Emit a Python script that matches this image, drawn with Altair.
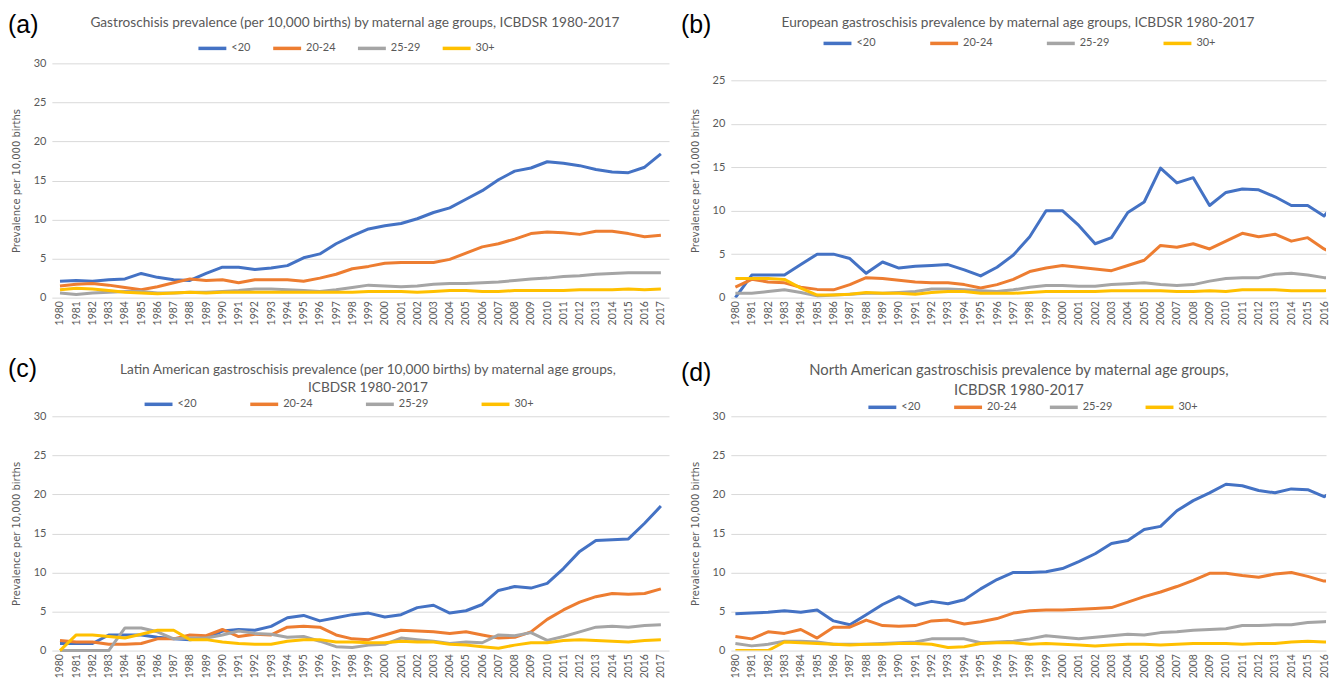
import altair as alt
import pandas as pd

years = list(range(1980, 2018))
groups = ["<20", "20-24", "25-29", "30+"]
colors = ["#4472C4", "#ED7D31", "#A5A5A5", "#FFC000"]

# (a) ICBDSR overall
a_lt20 = [2.1, 2.2, 2.1, 2.3, 2.4, 3.1, 2.6, 2.3, 2.2, 3.1, 3.9, 3.9, 3.6, 3.8, 4.1, 5.1, 5.6, 6.9, 7.9, 8.8,
          9.2, 9.5, 10.1, 10.9, 11.5, 12.6, 13.7, 15.1, 16.2, 16.6, 17.4, 17.2, 16.9, 16.4, 16.1, 16.0, 16.7, 18.4]
a_20_24 = [1.5, 1.7, 1.8, 1.6, 1.3, 1.0, 1.4, 1.9, 2.4, 2.2, 2.3, 1.9, 2.3, 2.3, 2.3, 2.1, 2.5, 3.0, 3.7, 4.0,
           4.4, 4.5, 4.5, 4.5, 4.9, 5.7, 6.5, 6.9, 7.5, 8.2, 8.4, 8.3, 8.1, 8.5, 8.5, 8.2, 7.8, 8.0]
a_25_29 = [0.6, 0.4, 0.6, 0.7, 0.8, 0.8, 0.6, 0.6, 0.7, 0.7, 0.8, 0.9, 1.1, 1.1, 1.0, 0.9, 0.8, 1.0, 1.3, 1.6,
           1.5, 1.4, 1.5, 1.7, 1.8, 1.8, 1.9, 2.0, 2.2, 2.4, 2.5, 2.7, 2.8, 3.0, 3.1, 3.2, 3.2, 3.2]
a_30p = [1.0, 1.2, 1.1, 0.9, 0.7, 0.6, 0.5, 0.6, 0.7, 0.6, 0.7, 0.7, 0.7, 0.7, 0.7, 0.7, 0.7, 0.7, 0.7, 0.8,
         0.8, 0.8, 0.7, 0.8, 0.9, 0.9, 0.8, 0.8, 0.9, 0.9, 0.9, 0.9, 1.0, 1.0, 1.0, 1.1, 1.0, 1.1]

# (b) Europe
b_lt20 = [0.0, 2.6, 2.6, 2.6, 3.8, 5.0, 5.0, 4.5, 2.8, 4.1, 3.4, 3.6, 3.7, 3.8, 3.2, 2.5, 3.5, 4.9, 7.0, 10.0,
          10.0, 8.3, 6.2, 6.9, 9.8, 11.0, 14.9, 13.2, 13.8, 10.6, 12.1, 12.5, 12.4, 11.6, 10.6, 10.6, 9.4, 11.5]
b_20_24 = [1.2, 2.1, 1.8, 1.7, 1.2, 0.95, 0.9, 1.5, 2.3, 2.2, 2.0, 1.8, 1.7, 1.7, 1.5, 1.1, 1.5, 2.1, 3.0, 3.4,
           3.7, 3.5, 3.3, 3.1, 3.7, 4.3, 6.0, 5.8, 6.2, 5.6, 6.5, 7.4, 7.0, 7.3, 6.5, 6.9, 5.6, 4.7]
b_25_29 = [0.5, 0.5, 0.7, 0.9, 0.6, 0.2, 0.3, 0.4, 0.5, 0.5, 0.6, 0.7, 1.0, 1.0, 0.9, 0.8, 0.7, 0.9, 1.2, 1.4,
           1.4, 1.3, 1.3, 1.5, 1.6, 1.7, 1.5, 1.4, 1.5, 1.9, 2.2, 2.3, 2.3, 2.7, 2.8, 2.6, 2.3, 2.3]
b_30p = [2.2, 2.2, 2.2, 2.1, 1.1, 0.3, 0.3, 0.4, 0.6, 0.5, 0.5, 0.4, 0.6, 0.7, 0.7, 0.5, 0.5, 0.5, 0.6, 0.7,
         0.7, 0.7, 0.7, 0.8, 0.8, 0.8, 0.8, 0.7, 0.7, 0.8, 0.7, 0.9, 0.9, 0.9, 0.8, 0.8, 0.8, 0.9]

# (c) Latin America
c_lt20 = [0.9, 0.9, 0.9, 2.0, 2.0, 2.0, 1.7, 1.5, 1.4, 1.6, 2.5, 2.7, 2.6, 3.1, 4.2, 4.5, 3.8, 4.2, 4.6, 4.8,
          4.3, 4.6, 5.5, 5.8, 4.8, 5.1, 5.9, 7.7, 8.2, 8.0, 8.6, 10.5, 12.7, 14.1, 14.2, 14.3, 16.3, 18.5]
c_20_24 = [1.3, 1.1, 1.1, 0.8, 0.8, 0.9, 1.5, 1.5, 2.0, 1.9, 2.7, 1.8, 2.1, 2.0, 3.0, 3.1, 3.0, 2.0, 1.5, 1.4,
           2.0, 2.6, 2.5, 2.4, 2.2, 2.4, 2.0, 1.6, 1.7, 2.4, 4.0, 5.2, 6.2, 6.9, 7.3, 7.2, 7.3, 7.9]
c_25_29 = [0.0, 0.0, 0.0, 0.0, 2.9, 2.9, 2.4, 1.5, 1.6, 1.6, 2.0, 2.5, 2.2, 2.1, 1.7, 1.8, 1.2, 0.5, 0.4, 0.7,
           0.8, 1.6, 1.4, 1.2, 0.9, 1.1, 1.0, 2.0, 1.9, 2.3, 1.3, 1.8, 2.4, 3.0, 3.1, 3.0, 3.2, 3.3]
c_30p = [0.0, 2.0, 2.0, 1.8, 1.6, 2.1, 2.6, 2.6, 1.4, 1.4, 1.1, 0.9, 0.8, 0.8, 1.2, 1.4, 1.4, 1.1, 1.1, 1.0,
         1.0, 1.2, 1.1, 1.1, 0.8, 0.7, 0.5, 0.3, 0.7, 1.0, 1.0, 1.3, 1.4, 1.3, 1.2, 1.1, 1.3, 1.4]

# (d) North America
d_lt20 = [4.7, 4.8, 4.9, 5.1, 4.9, 5.2, 3.8, 3.3, 4.6, 5.9, 6.9, 5.8, 6.3, 6.0, 6.5, 7.9, 9.1, 10.0, 10.0, 10.1,
          10.5, 11.4, 12.4, 13.7, 14.1, 15.5, 15.9, 17.9, 19.2, 20.2, 21.3, 21.1, 20.5, 20.2, 20.7, 20.6, 19.7, 21.0]
d_20_24 = [1.8, 1.5, 2.4, 2.2, 2.7, 1.6, 3.0, 3.0, 3.9, 3.2, 3.1, 3.2, 3.8, 3.9, 3.4, 3.7, 4.1, 4.8, 5.1, 5.2,
           5.2, 5.3, 5.4, 5.5, 6.2, 6.9, 7.5, 8.2, 9.0, 9.9, 9.9, 9.6, 9.4, 9.8, 10.0, 9.5, 8.9, 9.0]
d_25_29 = [0.9, 0.6, 0.8, 1.2, 1.2, 1.1, 0.8, 0.8, 0.8, 0.9, 1.0, 1.1, 1.5, 1.5, 1.5, 1.0, 1.1, 1.2, 1.5, 1.9,
           1.7, 1.5, 1.7, 1.9, 2.1, 2.0, 2.3, 2.4, 2.6, 2.7, 2.8, 3.2, 3.2, 3.3, 3.3, 3.6, 3.7, 3.8]
d_30p = [0.0, 0.0, 0.0, 1.1, 1.0, 0.9, 0.8, 0.7, 0.8, 0.8, 0.9, 0.9, 0.8, 0.4, 0.5, 0.9, 1.0, 1.0, 0.8, 0.9,
         0.8, 0.7, 0.6, 0.7, 0.8, 0.8, 0.7, 0.8, 0.9, 0.9, 0.9, 0.8, 0.9, 0.9, 1.1, 1.2, 1.1, 1.0]

title_a = ["Gastroschisis prevalence (per 10,000 births) by maternal age groups, ICBDSR 1980-2017"]
title_b = ["European gastroschisis prevalence by maternal age groups, ICBDSR 1980-2017"]
title_c = ["Latin American gastroschisis prevalence (per 10,000 births) by maternal age groups,", "ICBDSR 1980-2017"]
title_d = ["North American gastroschisis prevalence by maternal age groups,", "ICBDSR 1980-2017"]
y_title = "Prevalence per 10,000 births"

GREY = "#595959"
LABEL_FONT = "Lato"


def long_df(series):
    rows = []
    for g, vals in zip(groups, series):
        for yr, v in zip(years, vals):
            rows.append({"year": yr, "group": g, "value": v})
    return pd.DataFrame(rows)


def panel(series, title_lines, letter, width, height, xdom, xvals, ydom, yvals,
          leg_x, leg_y, leg_pad, title_x, title_y, title_size, title_lh,
          letter_x, letter_y, clip):
    df = long_df(series)
    legend_kw = dict(
        orient="none", legendX=leg_x, legendY=leg_y, direction="horizontal", title=None,
        symbolType="stroke", symbolSize=784, symbolStrokeWidth=3.5, columnPadding=leg_pad,
        labelFont=LABEL_FONT, labelFontSize=11, labelColor=GREY, labelOffset=3, padding=0,
    )
    lines = alt.Chart(df).mark_line(strokeWidth=3, clip=clip, strokeJoin="round").encode(
        x=alt.X("year:Q", scale=alt.Scale(domain=xdom, nice=False, zero=False),
                axis=alt.Axis(values=xvals, format="d", labelAngle=-90, grid=False, domain=False,
                              ticks=False, labelPadding=3, labelOverlap=False, labelFlush=False,
                              title=None, labelFont=LABEL_FONT, labelFontSize=10.5, labelColor=GREY)),
        y=alt.Y("value:Q", scale=alt.Scale(domain=ydom, nice=False, zero=True),
                axis=alt.Axis(values=yvals, grid=True, gridColor="#D9D9D9", gridWidth=1, domain=False,
                              ticks=False, labelPadding=6, labelFont=LABEL_FONT, labelFontSize=11,
                              labelColor=GREY, title=y_title, titleFont="DejaVu Sans", titleFontSize=10,
                              titleFontWeight="normal", titleColor=GREY, titlePadding=12)),
        color=alt.Color("group:N", sort=groups, scale=alt.Scale(domain=groups, range=colors),
                        legend=alt.Legend(**legend_kw)),
    )
    layers = [lines]
    for i, line in enumerate(title_lines):
        layers.append(
            alt.Chart(pd.DataFrame({"t": [line]})).mark_text(
                font=LABEL_FONT, fontSize=title_size, color=GREY, align="center", baseline="middle"
            ).encode(x=alt.value(title_x), y=alt.value(title_y + title_lh * i), text="t:N")
        )
    layers.append(
        alt.Chart(pd.DataFrame({"t": [letter]})).mark_text(
            font="Liberation Sans", fontSize=25, color="black", align="left", baseline="middle"
        ).encode(x=alt.value(letter_x), y=alt.value(letter_y), text="t:N")
    )
    return alt.layer(*layers).properties(width=width, height=height)


full_dom = [1979.5, 2017.5]
cut_dom = [1979.72, 2016.12]
years_cut = years[:-1]
y30 = [0, 5, 10, 15, 20, 25, 30]
y25 = [0, 5, 10, 15, 20, 25]

pa = panel([a_lt20, a_20_24, a_25_29, a_30p], title_a, "(a)", 619, 235, full_dom, years,
           [0, 30], y30, 145, -31, 15, 304, -40, 13.7, 18, -44, -38, False)
pb = panel([b_lt20, b_20_24, b_25_29, b_30p], title_b, "(b)", 597, 235, cut_dom, years_cut,
           [0, 26.95], y25, 91, -36, 47, 288, -40, 13.7, 18, -50, -38, True)
pc = panel([c_lt20, c_20_24, c_25_29, c_30p], title_c, "(c)", 619, 235, full_dom, years,
           [0, 30], y30, 91, -28, 46, 317, -46, 13.7, 18, -44, -47, False)
pd_ = panel([d_lt20, d_20_24, d_25_29, d_30p], title_d, "(d)", 597, 235, cut_dom, years_cut,
            [0, 30], y30, 136, -25, 26, 289, -45, 14.8, 20, -50, -43, True)

chart = alt.concat(
    pa, pb, pc, pd_, columns=2, bounds="flush",
    spacing=alt.RowColnumber(row=119, column=62),
).resolve_scale(
    color="independent", x="independent", y="independent"
).resolve_legend(color="independent").properties(
    padding={"left": 0, "top": 4.5, "right": 0, "bottom": 0}, background="white"
).configure_view(stroke=None)

chart.save("out.html", embed_options={"renderer": "svg", "actions": False})
